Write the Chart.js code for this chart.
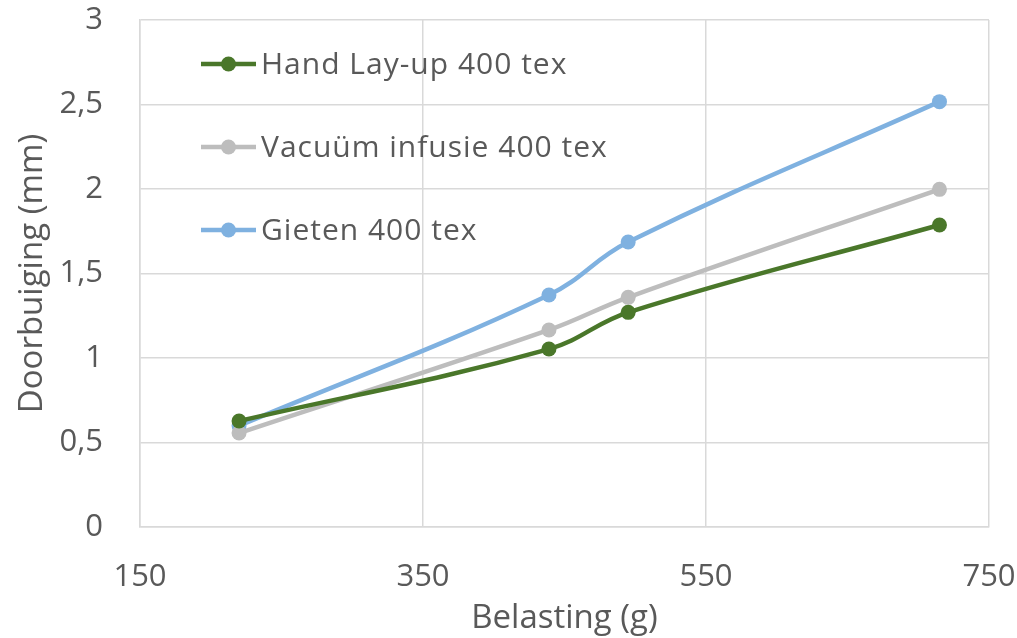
<!DOCTYPE html>
<html>
<head>
<meta charset="utf-8">
<title>Doorbuiging bij belasting</title>
<script src="https://cdn.jsdelivr.net/npm/chart.js@4/dist/chart.umd.min.js"></script>
<style>
  html, body { margin: 0; padding: 0; background: #ffffff; }
  #wrap { width: 1017px; height: 638px; position: relative; }
</style>
</head>
<body>
<div id="wrap"><canvas id="chart" width="1017" height="638"></canvas></div>
<script>
// Belasting (g) per meetpunt
const belasting = [220, 439, 495, 715];

// Doorbuiging (mm) per productiemethode
const handLayUp = [0.627, 1.053, 1.270, 1.787];
const vacuumInfusie = [0.556, 1.166, 1.359, 1.998];
const gieten = [0.599, 1.373, 1.686, 2.517];

const seriesNames = ['Hand Lay-up 400 tex', 'Vacuüm infusie 400 tex', 'Gieten 400 tex'];
const seriesColors = ['#4a772a', '#bdbdbd', '#7fb1e0'];

const FONT = '"Open Sans", Lato, sans-serif';
const TEXT = '#595959';
const GRID = '#d9d9d9';

function toPoints(ys) {
  return belasting.map((x, i) => ({ x: x, y: ys[i] }));
}

const datasets = [handLayUp, vacuumInfusie, gieten].map((ys, i) => ({
  label: seriesNames[i],
  data: toPoints(ys),
  borderColor: seriesColors[i],
  backgroundColor: seriesColors[i],
  pointBackgroundColor: seriesColors[i],
  pointBorderColor: seriesColors[i],
  borderWidth: 4.5,
  pointRadius: 7.5,
  pointBorderWidth: 0,
  tension: 0.4,
  fill: false
}));

// Legend drawn inside the plot area, top-left, stacked vertically
const innerLegend = {
  id: 'innerLegend',
  afterDatasetsDraw(chart) {
    const ctx = chart.ctx;
    const rows = [64, 147, 230];
    ctx.save();
    chart.data.datasets.forEach((ds, i) => {
      const y = rows[i];
      ctx.strokeStyle = ds.borderColor;
      ctx.lineWidth = 4.5;
      ctx.beginPath();
      ctx.moveTo(201, y);
      ctx.lineTo(256, y);
      ctx.stroke();
      ctx.fillStyle = ds.borderColor;
      ctx.beginPath();
      ctx.arc(228.5, y, 7.5, 0, Math.PI * 2);
      ctx.fill();
      ctx.fillStyle = TEXT;
      ctx.font = '30px ' + FONT;
      ctx.letterSpacing = '1px';
      ctx.textAlign = 'left';
      ctx.textBaseline = 'middle';
      ctx.fillText(ds.label, 261, y + 1);
    });
    ctx.restore();
  }
};

new Chart(document.getElementById('chart'), {
  type: 'line',
  data: { datasets: datasets },
  plugins: [innerLegend],
  options: {
    responsive: false,
    animation: false,
    layout: { padding: { top: 20, right: 28, left: 0, bottom: 0 } },
    plugins: {
      legend: { display: false },
      tooltip: { enabled: false }
    },
    scales: {
      x: {
        type: 'linear',
        min: 150,
        max: 750,
        ticks: {
          stepSize: 200,
          color: TEXT,
          font: { family: FONT, size: 31 },
          padding: 32
        },
        grid: { color: GRID, lineWidth: 1.5, drawTicks: false },
        border: { color: GRID, width: 1.5 },
        title: {
          display: true,
          text: 'Belasting (g)',
          color: TEXT,
          font: { family: FONT, size: 33 },
          padding: { top: 0, bottom: 0 }
        },
        afterFit(scale) {
          scale.height = 111;
          scale.paddingLeft = 0;
          scale.paddingRight = 0;
        }
      },
      y: {
        min: 0,
        max: 3,
        ticks: {
          stepSize: 0.5,
          color: TEXT,
          font: { family: FONT, size: 31 },
          padding: 37,
          callback: (v) => String(v).replace('.', ',')
        },
        grid: { color: GRID, lineWidth: 1.5, drawTicks: false },
        border: { color: GRID, width: 1.5 },
        title: {
          display: true,
          text: 'Doorbuiging (mm)',
          color: TEXT,
          font: { family: FONT, size: 33 },
          padding: { top: 13, bottom: 0 }
        },
        afterFit(scale) {
          scale.width = 140;
          scale.paddingTop = 0;
          scale.paddingBottom = 0;
        }
      }
    }
  }
});
</script>
</body>
</html>
